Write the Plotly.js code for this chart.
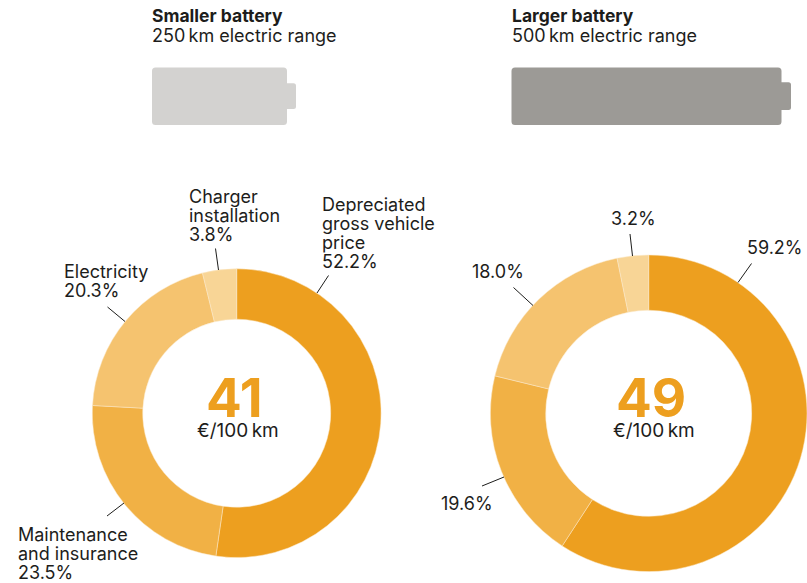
<!DOCTYPE html>
<html>
<head>
<meta charset="utf-8">
<script src="https://cdn.plot.ly/plotly-3.0.1.min.js"></script>
<style>html,body{margin:0;padding:0;background:#fff}#c{width:807px;height:583px}</style>
</head>
<body>
<div id="c"></div>
<script>
// Data
const categories = ['Depreciated gross vehicle price', 'Maintenance and insurance', 'Electricity', 'Charger installation'];
const smallerValues = [52.2, 23.5, 20.3, 3.8];
const largerValues = [59.2, 19.6, 18.0, 3.2];
const smallerTotal = '41';
const largerTotal = '49';
const unitLabel = '€/100\u2009km';
const sliceColors = ['#ed9f1f', '#f1b145', '#f5c36f', '#f8d596'];

// Layout helpers (pixel to paper)
const W = 807, H = 583;
const FONT = 'Inter, "Open Sans", sans-serif';
const INK = '#1d1d1b';
const px = x => x / W;
const py = y => 1 - y / H;
const domain = (cx, cy, r) => ({
  x: [Math.max(0, px(cx - r)), Math.min(1, px(cx + r))],
  y: [py(cy + r), py(cy - r)]
});

function donut(name, values, cx, cy, r) {
  return {
    type: 'pie', name, labels: categories, values,
    hole: 0.651, sort: false, direction: 'clockwise', rotation: 0,
    domain: domain(cx, cy, r),
    marker: {colors: sliceColors, line: {color: '#fbe9cb', width: 0.5}},
    textinfo: 'none', hoverinfo: 'label+value', showlegend: false
  };
}

function battery(x0, x1, nub, nubY0, nubY1, color) {
  const y0 = 67.5, y1 = 125, c = 3.5, n = 2.5;
  const P = (x, y) => px(x) + ',' + py(y);
  const path = 'M' + P(x0 + c, y0) + ' L' + P(x1 - c, y0) + ' Q' + P(x1, y0) + ' ' + P(x1, y0 + c) +
    ' L' + P(x1, nubY0) + ' L' + P(nub - n, nubY0) + ' Q' + P(nub, nubY0) + ' ' + P(nub, nubY0 + n) +
    ' L' + P(nub, nubY1 - n) + ' Q' + P(nub, nubY1) + ' ' + P(nub - n, nubY1) + ' L' + P(x1, nubY1) +
    ' L' + P(x1, y1 - c) + ' Q' + P(x1, y1) + ' ' + P(x1 - c, y1) + ' L' + P(x0 + c, y1) +
    ' Q' + P(x0, y1) + ' ' + P(x0, y1 - c) + ' L' + P(x0, y0 + c) + ' Q' + P(x0, y0) + ' ' + P(x0 + c, y0) + ' Z';
  return {type: 'path', xref: 'paper', yref: 'paper', path, fillcolor: color, line: {width: 0}};
}

const leader = (x0, y0, x1, y1) => ({
  type: 'line', xref: 'paper', yref: 'paper',
  x0: px(x0), y0: py(y0), x1: px(x1), y1: py(y1),
  line: {color: INK, width: 1}
});

function txt(text, x, y, opt) {
  opt = opt || {};
  return {
    text, xref: 'paper', yref: 'paper', x: px(x), y: py(y),
    xanchor: opt.anchor || 'left', yanchor: 'middle', showarrow: false,
    borderpad: 0, borderwidth: 0,
    font: {family: FONT, size: opt.size || 18, color: opt.color || INK}
  };
}

function block(lines, x, yFirst) {
  return lines.map((l, i) => txt(l, x, yFirst + i * 19));
}

const annotations = [
  txt('<b>Smaller battery</b>', 152, 15.5, {size: 17.5}),
  txt('250\u2009km electric range', 152, 36),
  txt('<b>Larger battery</b>', 511.5, 15.5, {size: 17.5}),
  txt('500\u2009km electric range', 511.5, 36),
  ...block(['Depreciated', 'gross vehicle', 'price', smallerValues[0].toFixed(1) + '%'], 322, 204.5),
  ...block(['Charger', 'installation', smallerValues[3].toFixed(1) + '%'], 189, 196.5),
  ...block(['Electricity', smallerValues[2].toFixed(1) + '%'], 64, 271),
  ...block(['Maintenance', 'and insurance', smallerValues[1].toFixed(1) + '%'], 18, 534),
  txt(largerValues[3].toFixed(1) + '%', 611, 218.5),
  txt(largerValues[0].toFixed(1) + '%', 747, 247.5),
  txt(largerValues[2].toFixed(1) + '%', 471.5, 271.5),
  txt(largerValues[1].toFixed(1) + '%', 441, 503.5),
  txt('<b>' + smallerTotal + '</b>', 234.5, 398, {anchor: 'center', size: 53, color: sliceColors[0]}),
  txt(unitLabel, 237.5, 430.5, {anchor: 'center', size: 19}),
  txt('<b>' + largerTotal + '</b>', 651, 398, {anchor: 'center', size: 53, color: sliceColors[0]}),
  txt(unitLabel, 654, 430.5, {anchor: 'center', size: 19})
];

const shapes = [
  battery(152, 287, 296, 83.3, 109, '#d3d2d0'),
  battery(511.5, 781.5, 791, 82.3, 110, '#9c9a96'),
  leader(328.5, 275.5, 317, 293),
  leader(215.5, 248.5, 218.5, 270),
  leader(107.5, 307, 125, 321.5),
  leader(107, 516, 124, 503),
  leader(751.5, 263.5, 738, 282.5),
  leader(630, 234, 632.5, 256),
  leader(513.5, 287.5, 533, 305.5),
  leader(482, 486, 504, 477)
];

Plotly.newPlot('c', [
  donut('Smaller battery', smallerValues, 236.7, 413.2, 144.4),
  donut('Larger battery', largerValues, 648.7, 413.3, 158.3)
], {
  width: W, height: H,
  margin: {l: 0, r: 0, t: 0, b: 0, pad: 0},
  paper_bgcolor: '#ffffff', plot_bgcolor: '#ffffff',
  showlegend: false,
  shapes, annotations
}, {displayModeBar: false, staticPlot: true});
</script>
</body>
</html>
